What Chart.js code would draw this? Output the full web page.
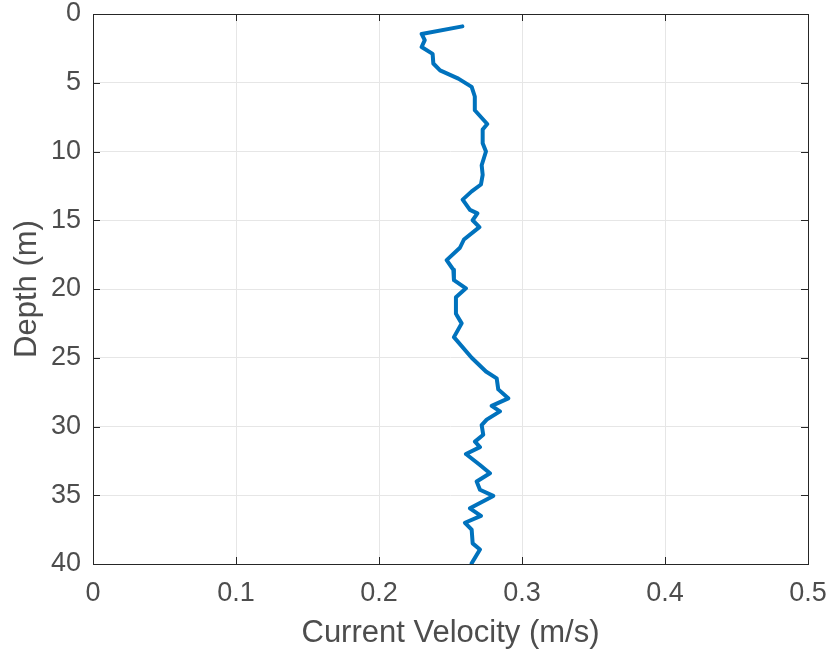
<!DOCTYPE html>
<html>
<head>
<meta charset="utf-8">
<script src="https://cdn.jsdelivr.net/npm/chart.js@4"></script>
<style>
  body { margin: 0; background: #fff; }
  #wrap { width: 829px; height: 654px; }
</style>
</head>
<body>
<div id="wrap"><canvas id="profileChart" width="829" height="654"></canvas></div>
<script>
const depth = [0.9, 1.45, 1.9, 2.4, 2.9, 3.6, 4.1, 4.7, 5.3, 6.0, 7.0, 8.0, 8.4, 9.4, 10.0,
  11.0, 11.7, 12.4, 12.9, 13.5, 14.25, 14.5, 15.0, 15.5, 16.4, 17.0, 17.9, 18.6, 19.35,
  19.95, 20.6, 21.8, 22.5, 23.5, 25.0, 26.0, 26.5, 27.3, 27.95, 28.5, 28.9, 29.5, 29.9,
  30.6, 31.1, 31.5, 32.0, 32.8, 33.4, 34.0, 34.6, 35.05, 35.95, 36.5, 37.0, 37.5, 38.5,
  38.95, 39.95];
const velocity = [0.2583, 0.2298, 0.232, 0.2298, 0.2375, 0.238, 0.2427, 0.2555, 0.2648, 0.267,
  0.267, 0.2757, 0.2725, 0.2725, 0.2748, 0.2718, 0.2725, 0.2713, 0.2648, 0.2585, 0.2636,
  0.2688, 0.2655, 0.2702, 0.2594, 0.2566, 0.2473, 0.252, 0.2524, 0.2608, 0.2538, 0.2538,
  0.2578, 0.2524, 0.2648, 0.2748, 0.2823, 0.2834, 0.2904, 0.2788, 0.2846, 0.2753, 0.2718,
  0.2729, 0.2671, 0.2706, 0.2608, 0.2706, 0.2776, 0.2683, 0.2706, 0.2799, 0.2636, 0.2713,
  0.2601, 0.2648, 0.2655, 0.2706, 0.2648];
const xTicks = [0, 0.1, 0.2, 0.3, 0.4, 0.5];
const yTicks = [0, 5, 10, 15, 20, 25, 30, 35, 40];

const axisColor = '#262626';
const tickColor = '#4d4d4d';
const fontFamily = '"Liberation Sans", Arial, Helvetica, sans-serif';

// marco completo y marcas hacia dentro (estilo MATLAB)
const boxPlugin = {
    id: 'boxPlugin',
    afterDraw(chart) {
        const { ctx, chartArea: a, scales } = chart;
        ctx.save();
        ctx.strokeStyle = axisColor;
        ctx.lineWidth = 1;
        ctx.strokeRect(a.left + 0.5, a.top + 0.5, a.right - a.left, a.bottom - a.top);
        ctx.beginPath();
        xTicks.forEach(t => {
            const px = Math.round(scales.x.getPixelForValue(t)) + 0.5;
            ctx.moveTo(px, a.bottom); ctx.lineTo(px, a.bottom - 7);
            ctx.moveTo(px, a.top); ctx.lineTo(px, a.top + 7);
        });
        yTicks.forEach(t => {
            const py = Math.round(scales.y.getPixelForValue(t)) + 0.5;
            ctx.moveTo(a.left, py); ctx.lineTo(a.left + 7, py);
            ctx.moveTo(a.right, py); ctx.lineTo(a.right - 7, py);
        });
        ctx.stroke();
        ctx.restore();
    }
};

new Chart(document.getElementById('profileChart'), {
    type: 'scatter',
    data: {
        datasets: [{
            data: depth.map((d, i) => ({ x: velocity[i], y: d })),
            showLine: true,
            borderColor: '#0072BD',
            borderWidth: 4,
            borderJoinStyle: 'round',
            borderCapStyle: 'round',
            pointRadius: 0,
            tension: 0
        }]
    },
    options: {
        responsive: false,
        animation: false,
        layout: { padding: { top: 14, right: 21, left: 0, bottom: 0 } },
        plugins: { legend: { display: false }, tooltip: { enabled: false } },
        scales: {
            x: {
                type: 'linear', min: 0, max: 0.5,
                afterBuildTicks: s => { s.ticks = xTicks.map(v => ({ value: v })); },
                afterFit: s => { s.height = 90; s.paddingLeft = 0; s.paddingRight = 0; },
                grid: { color: '#e6e6e6', drawTicks: false },
                border: { display: false },
                ticks: {
                    color: tickColor, padding: 13,
                    font: { family: fontFamily, size: 27 },
                    callback: v => String(v)
                },
                title: {
                    display: true, text: 'Current Velocity (m/s)', color: tickColor,
                    font: { family: fontFamily, size: 31 }, padding: { top: 4, bottom: 2 }
                }
            },
            y: {
                type: 'linear', min: 0, max: 40, reverse: true,
                afterBuildTicks: s => { s.ticks = yTicks.map(v => ({ value: v })); },
                afterFit: s => { s.width = 93; s.paddingTop = 0; s.paddingBottom = 0; },
                grid: { color: '#e6e6e6', drawTicks: false },
                border: { display: false },
                ticks: {
                    color: tickColor, padding: 12,
                    font: { family: fontFamily, size: 27 }
                },
                title: {
                    display: true, text: 'Depth (m)', color: tickColor,
                    font: { family: fontFamily, size: 31 }, padding: { top: 9, bottom: 4 }
                }
            }
        }
    },
    plugins: [boxPlugin]
});
</script>
</body>
</html>
